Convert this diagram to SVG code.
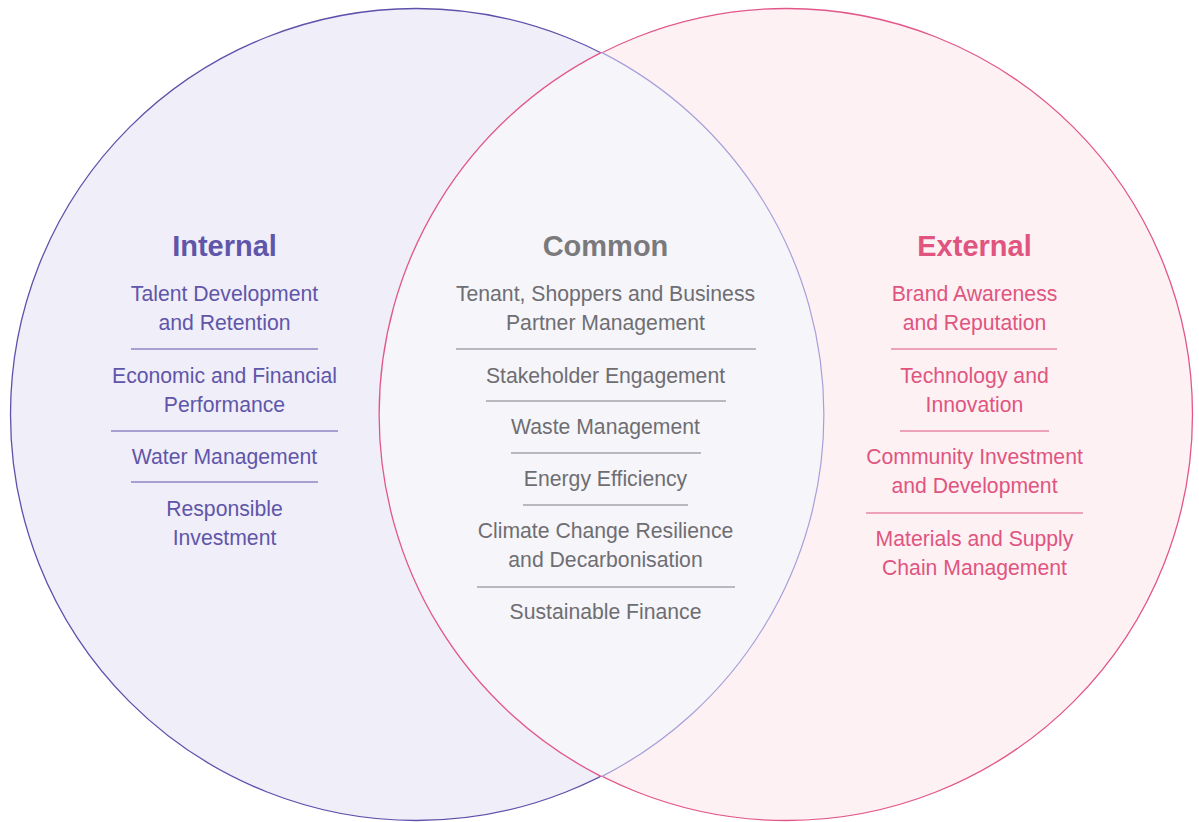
<svg xmlns="http://www.w3.org/2000/svg" width="1199" height="822" viewBox="0 0 1199 822">
<style>
text{font-family:"Liberation Sans",Arial,Helvetica,sans-serif;text-anchor:middle}
.t{font-size:29px;font-weight:bold}
.i{font-size:21.2px}
.pu{fill:#5f56a9}
.gr{fill:#6e6e72}
.pk{fill:#e0557f}
.lpu{stroke:#5f55aa;stroke-width:1.2}
.lgr{stroke:#7d7d82;stroke-width:1.2}
.lpk{stroke:#e0557f;stroke-width:1.2}
</style>
<g id="circles">
<circle id="internal-circle" cx="416.5" cy="414.5" r="406" fill="#f0eef9" stroke="#5d52ab" stroke-width="1.3"/>
<circle id="external-circle" cx="786.5" cy="414.5" r="406" fill="#fdf1f4" stroke="#e2578a" stroke-width="1.3"/>
<path id="overlap" d="M601.5 52.4 A406 406 0 0 1 601.5 776.6 A406 406 0 0 1 601.5 52.4 Z" fill="#f6f5fa"/>
<path d="M601.5 52.4 A406 406 0 0 1 601.5 776.6" fill="none" stroke="#a79fd8" stroke-width="1.2"/>
<path d="M601.5 776.6 A406 406 0 0 1 601.5 52.4" fill="none" stroke="#e2578a" stroke-width="1.3"/>
</g>
<g id="internal">
<text class="t pu" x="224.5" y="256">Internal</text>
<text class="i pu" x="224.5" y="301">Talent Development</text>
<text class="i pu" x="224.5" y="330">and Retention</text>
<line class="lpu" x1="131" y1="349" x2="318" y2="349"/>
<text class="i pu" x="224.5" y="382.5">Economic and Financial</text>
<text class="i pu" x="224.5" y="411.5">Performance</text>
<line class="lpu" x1="111" y1="431" x2="338" y2="431"/>
<text class="i pu" x="224.5" y="464">Water Management</text>
<line class="lpu" x1="131" y1="482" x2="318" y2="482"/>
<text class="i pu" x="224.5" y="516">Responsible</text>
<text class="i pu" x="224.5" y="545">Investment</text>
</g>
<g id="common">
<text class="t" fill="#7a7a7d" x="605.5" y="256">Common</text>
<text class="i gr" x="605.5" y="301">Tenant, Shoppers and Business</text>
<text class="i gr" x="605.5" y="330">Partner Management</text>
<line class="lgr" x1="456" y1="349" x2="756" y2="349"/>
<text class="i gr" x="605.5" y="382.5">Stakeholder Engagement</text>
<line class="lgr" x1="486" y1="401" x2="726" y2="401"/>
<text class="i gr" x="605.5" y="434">Waste Management</text>
<line class="lgr" x1="511" y1="453" x2="701" y2="453"/>
<text class="i gr" x="605.5" y="486">Energy Efficiency</text>
<line class="lgr" x1="523" y1="505" x2="688" y2="505"/>
<text class="i gr" x="605.5" y="538">Climate Change Resilience</text>
<text class="i gr" x="605.5" y="567">and Decarbonisation</text>
<line class="lgr" x1="477" y1="587" x2="735" y2="587"/>
<text class="i gr" x="605.5" y="619">Sustainable Finance</text>
</g>
<g id="external">
<text class="t pk" x="974.5" y="256">External</text>
<text class="i pk" x="974.5" y="301">Brand Awareness</text>
<text class="i pk" x="974.5" y="330">and Reputation</text>
<line class="lpk" x1="891" y1="349" x2="1057" y2="349"/>
<text class="i pk" x="974.5" y="382.5">Technology and</text>
<text class="i pk" x="974.5" y="411.5">Innovation</text>
<line class="lpk" x1="900" y1="431" x2="1049" y2="431"/>
<text class="i pk" x="974.5" y="464">Community Investment</text>
<text class="i pk" x="974.5" y="493">and Development</text>
<line class="lpk" x1="866" y1="513" x2="1083" y2="513"/>
<text class="i pk" x="974.5" y="545.5">Materials and Supply</text>
<text class="i pk" x="974.5" y="574.5">Chain Management</text>
</g>
</svg>
